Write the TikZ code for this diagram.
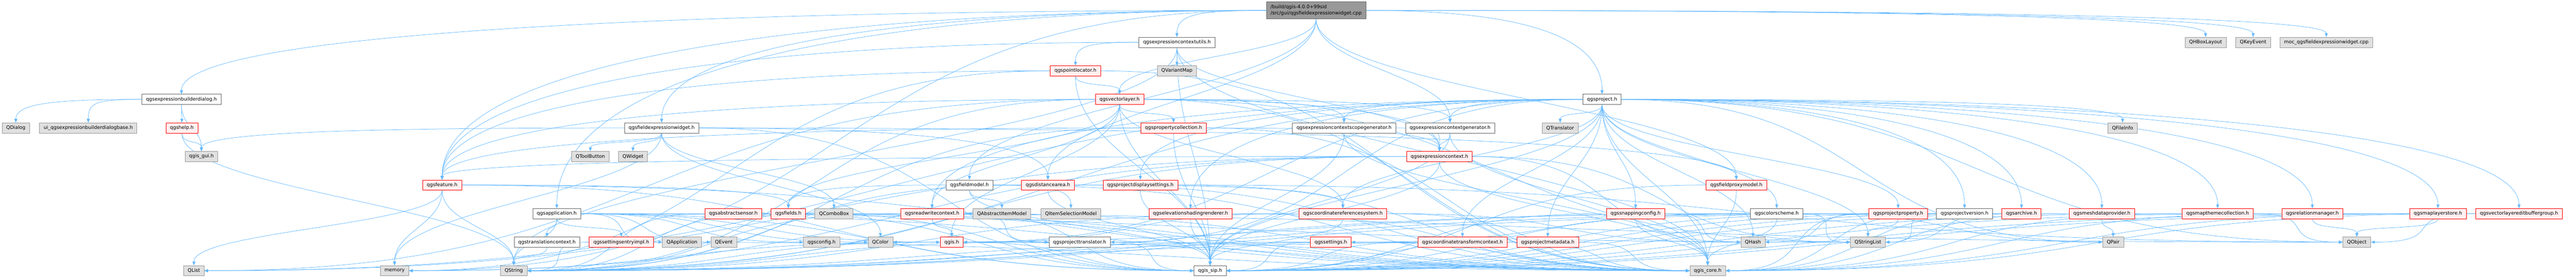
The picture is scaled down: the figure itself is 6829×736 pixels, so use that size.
\documentclass[tikz,border=0pt]{standalone}
\usepackage{fontspec}
\setmainfont{DejaVu Sans}
\usetikzlibrary{arrows.meta,backgrounds}
\definecolor{edgeblue}{HTML}{63B8FF}
\definecolor{partline}{HTML}{FF0000}
\definecolor{partfill}{HTML}{FFF0F0}
\definecolor{extfill}{HTML}{E0E0E0}
\definecolor{extline}{HTML}{999999}
\definecolor{docline}{HTML}{666666}
\definecolor{mainfill}{HTML}{999999}
\tikzset{
  file/.style={draw, line width=.75pt, inner xsep=8.25pt, inner ysep=1pt,
    minimum height=20.25pt, font=\fontsize{9.6}{11.5}\selectfont},
  docfile/.style={file, draw=docline, fill=white},
  extfile/.style={file, draw=extline, fill=extfill},
  partfile/.style={file, draw=partline, fill=partfill},
  mainfile/.style={file, draw=docline, fill=mainfill, align=left,
    minimum height=33.75pt, font=\fontsize{9.6}{12.75}\selectfont},
  dep/.style={->, draw=edgeblue, line width=.75pt},
}
% include edge: bottom to top, or side to side when far apart
\newcommand\dep[2]{%
  \pgfpointanchor{#1}{center}\pgfgetlastxy{\depax}{\depay}%
  \pgfpointanchor{#2}{center}\pgfgetlastxy{\depbx}{\depby}%
  \pgfmathsetmacro\depdx{(\depbx)-(\depax)}%
  \pgfmathsetmacro\depdy{(\depay)-(\depby)}%
  \pgfmathtruncatemacro\depfar{abs(\depdx)>3*\depdy}%
  \pgfmathtruncatemacro\deplow{\depby<-450}%
  \ifnum\depfar=1
    \ifdim\depdx pt>0pt \def\depsa{east}\def\depoa{0}\else\def\depsa{west}\def\depoa{180}\fi
    \pgfmathsetmacro\depod{0.5*abs(\depdx)}%
    \ifnum\deplow=1
      \ifdim\depdx pt>0pt \def\depta{west}\def\depia{180}\else\def\depta{east}\def\depia{0}\fi
      \pgfmathsetmacro\depid{0.5*abs(\depdx)}%
    \else
      \def\depta{north}\def\depia{90}%
      \pgfmathsetmacro\depid{0.7*\depdy}%
    \fi
  \else
    \def\depsa{south}\def\depoa{-90}\def\depta{north}\def\depia{90}%
    \pgfmathsetmacro\depod{0.4*\depdy}%
    \pgfmathsetmacro\depid{0.4*\depdy}%
  \fi
  \draw[dep] (#1.\depsa) .. controls +(\depoa:\depod pt) and +(\depia:\depid pt) .. (#2.\depta);%
}
\begin{document}
\begin{tikzpicture}[x=.75pt, y=-.75pt, >={Stealth[length=7.5pt,width=6pt,inset=0pt]}]
  \def\rowa{112} \def\rowb{187.6} \def\rowc{263.2} \def\rowd{338.8} \def\rowe{414.4}
  \def\rowf{490} \def\rowg{565.6} \def\rowh{641.2} \def\rowi{716.8}
  \useasboundingbox (0,0) rectangle (6829,736);
  \node[mainfile] (main) at (3489,27.5) {/build/qgis-4.0.0+99sid\\/src/gui/qgsfieldexpressionwidget.cpp};
  % rank 1
  \node[docfile] (ctxutils) at (3120,\rowa) {qgsexpressioncontextutils.h};
  \node[extfile] (hbox) at (5847,\rowa) {QHBoxLayout};
  \node[extfile] (keyev) at (5973,\rowa) {QKeyEvent};
  \node[extfile] (moc) at (6167,\rowa) {moc\_qgsfieldexpressionwidget.cpp};
  % rank 2
  \node[partfile] (ptloc) at (2851,\rowb) {qgspointlocator.h};
  \node[extfile] (varmap) at (3120,\rowb) {QVariantMap};
  % rank 3
  \node[docfile] (builder) at (481,\rowc) {qgsexpressionbuilderdialog.h};
  \node[partfile] (vlayer) at (2968,\rowc) {qgsvectorlayer.h};
  \node[docfile] (project) at (4247,\rowc) {qgsproject.h};
  % rank 4
  \node[extfile] (qdialog) at (42,\rowd) {QDialog};
  \node[extfile] (uidlg) at (234,\rowd) {ui\_qgsexpressionbuilderdialogbase.h};
  \node[partfile] (help) at (482,\rowd) {qgshelp.h};
  \node[docfile] (widget) at (1754,\rowd) {qgsfieldexpressionwidget.h};
  \node[partfile] (propcoll) at (3111,\rowd) {qgspropertycollection.h};
  \node[docfile] (scopegen) at (3563,\rowd) {qgsexpressioncontextscopegenerator.h};
  \node[docfile] (ctxgen) at (3844,\rowd) {qgsexpressioncontextgenerator.h};
  \node[extfile] (translator) at (4136,\rowd) {QTranslator};
  \node[extfile] (fileinfo) at (5627,\rowd) {QFileInfo};
  % rank 5
  \node[extfile] (guih) at (534,\rowe) {qgis\_gui.h};
  \node[extfile] (toolbtn) at (1565,\rowe) {QToolButton};
  \node[extfile] (qwidget) at (1678,\rowe) {QWidget};
  \node[partfile] (context) at (3816,\rowe) {qgsexpressioncontext.h};
  % rank 6
  \node[partfile] (feature) at (1172,\rowf) {qgsfeature.h};
  \node[docfile] (fieldmodel) at (2570,\rowf) {qgsfieldmodel.h};
  \node[partfile] (distarea) at (2778,\rowf) {qgsdistancearea.h};
  \node[partfile] (dispset) at (3023,\rowf) {qgsprojectdisplaysettings.h};
  \node[partfile] (proxymodel) at (4603,\rowf) {qgsfieldproxymodel.h};
  % rank 7
  \node[docfile] (app) at (1476,\rowg) {qgsapplication.h};
  \node[partfile] (sensor) at (1944,\rowg) {qgsabstractsensor.h};
  \node[partfile] (fields) at (2090,\rowg) {qgsfields.h};
  \node[extfile] (combo) at (2211,\rowg) {QComboBox};
  \node[partfile] (rwcontext) at (2471,\rowg) {qgsreadwritecontext.h};
  \node[extfile] (itemmodel) at (2656,\rowg) {QAbstractItemModel};
  \node[extfile] (selmodel) at (2839,\rowg) {QItemSelectionModel};
  \node[partfile] (elevation) at (3156,\rowg) {qgselevationshadingrenderer.h};
  \node[partfile] (crs) at (3560,\rowg) {qgscoordinatereferencesystem.h};
  \node[partfile] (snapping) at (4336,\rowg) {qgssnappingconfig.h};
  \node[docfile] (colorscheme) at (4710,\rowg) {qgscolorscheme.h};
  \node[partfile] (projprop) at (5032,\rowg) {qgsprojectproperty.h};
  \node[docfile] (projver) at (5208,\rowg) {qgsprojectversion.h};
  \node[partfile] (archive) at (5359,\rowg) {qgsarchive.h};
  \node[partfile] (meshdp) at (5572,\rowg) {qgsmeshdataprovider.h};
  \node[partfile] (themes) at (5879,\rowg) {qgsmapthemecollection.h};
  \node[partfile] (relmgr) at (6130,\rowg) {qgsrelationmanager.h};
  \node[partfile] (layerstore) at (6463,\rowg) {qgsmaplayerstore.h};
  \node[partfile] (editbuf) at (6678,\rowg) {qgsvectorlayereditbuffergroup.h};
  % rank 8
  \node[docfile] (transctx) at (1450,\rowh) {qgstranslationcontext.h};
  \node[partfile] (settentry) at (1647,\rowh) {qgssettingsentryimpl.h};
  \node[extfile] (qapp) at (1808,\rowh) {QApplication};
  \node[extfile] (qevent) at (1919,\rowh) {QEvent};
  \node[extfile] (config) at (2178,\rowh) {qgsconfig.h};
  \node[extfile] (qcolor) at (2334,\rowh) {QColor};
  \node[partfile] (qgish) at (2523,\rowh) {qgis.h};
  \node[docfile] (translatorh) at (2862,\rowh) {qgsprojecttranslator.h};
  \node[partfile] (settings) at (3528,\rowh) {qgssettings.h};
  \node[partfile] (ctcontext) at (3877,\rowh) {qgscoordinatetransformcontext.h};
  \node[partfile] (metadata) at (4103,\rowh) {qgsprojectmetadata.h};
  \node[extfile] (qhash) at (4647,\rowh) {QHash};
  \node[extfile] (strlist) at (4952,\rowh) {QStringList};
  \node[extfile] (qpair) at (5602,\rowh) {QPair};
  \node[extfile] (qobject) at (6248,\rowh) {QObject};
  % rank 9
  \node[extfile] (qlist) at (514,\rowi) {QList};
  \node[extfile] (memory) at (1046,\rowi) {memory};
  \node[extfile] (qstring) at (1362,\rowi) {QString};
  \node[docfile] (sip) at (3208,\rowi) {qgis\_sip.h};
  \node[extfile] (core) at (4527,\rowi) {qgis\_core.h};
  \begin{scope}[on background layer]
    \foreach \t in {widget,builder,ctxutils,vlayer,project,ctxgen,distarea,proxymodel,
      fieldmodel,app,memory,feature,hbox,keyev,moc} \dep{main}{\t};
    \foreach \t in {qdialog,uidlg,help,guih} \dep{builder}{\t};
    \foreach \t in {guih,qstring} \dep{help}{\t};
    \foreach \t in {toolbtn,qwidget,combo,qcolor,guih,sip,memory,distarea,proxymodel} \dep{widget}{\t};
    \foreach \t in {ptloc,varmap,context,feature,sip,core,qstring} \dep{ctxutils}{\t};
    \foreach \t in {vlayer,feature,sip,core,memory} \dep{ptloc}{\t};
    \foreach \t in {propcoll,scopegen,ctxgen,context,feature,fields,rwcontext,crs,qgish,
      sip,core,qstring,qlist,strlist} \dep{vlayer}{\t};
    \foreach \t in {translator,fileinfo,scopegen,ctxgen,dispset,elevation,crs,snapping,
      colorscheme,projprop,projver,archive,meshdp,themes,relmgr,layerstore,editbuf,
      translatorh,ctcontext,metadata,qhash,strlist,qpair,qobject,rwcontext,qgish,
      sip,core,qstring,qlist} \dep{project}{\t};
    \foreach \t in {context,feature,core,sip,qstring} \dep{propcoll}{\t};
    \foreach \t in {context,core,sip} \dep{scopegen}{\t};
    \foreach \t in {context,core,sip} \dep{ctxgen}{\t};
    \foreach \t in {feature,qhash,strlist,qlist,qstring,core,sip,memory} \dep{context}{\t};
    \foreach \t in {fields,qlist,memory,qstring,core,sip} \dep{feature}{\t};
    \foreach \t in {itemmodel,selmodel,fields,core,sip} \dep{fieldmodel}{\t};
    \foreach \t in {crs,core,sip,qstring} \dep{distarea}{\t};
    \foreach \t in {qobject,core,sip} \dep{dispset}{\t};
    \foreach \t in {core,sip} \dep{proxymodel}{\t};
    \foreach \t in {transctx,settentry,qapp,qevent,config,qcolor,qgish,strlist,
      core,sip,qstring} \dep{app}{\t};
    \foreach \t in {qobject,core,sip,qstring} \dep{sensor}{\t};
    \foreach \t in {core,sip,qstring} \dep{fields}{\t};
    \foreach \t in {qgish,translatorh,core,sip,qstring} \dep{rwcontext}{\t};
    \foreach \t in {core,sip} \dep{elevation}{\t};
    \foreach \t in {qgish,qhash,core,sip,qstring} \dep{crs}{\t};
    \foreach \t in {qhash,core,sip} \dep{snapping}{\t};
    \foreach \t in {settings,qcolor,qpair,strlist,core,sip,qstring} \dep{colorscheme}{\t};
    \foreach \t in {strlist,qhash,core,sip,qstring} \dep{projprop}{\t};
    \foreach \t in {strlist,core,sip,qstring} \dep{projver}{\t};
    \foreach \t in {strlist,core,sip} \dep{archive}{\t};
    \foreach \t in {qpair,core,sip} \dep{meshdp}{\t};
    \foreach \s in {themes,relmgr,layerstore,editbuf}
      \foreach \t in {qobject,core,sip} \dep{\s}{\t};
    \dep{transctx}{qstring};
    \foreach \t in {core,qstring} \dep{settentry}{\t};
    \foreach \t in {core,sip,qstring,memory} \dep{qgish}{\t};
    \foreach \s in {translatorh,settings,ctcontext,metadata}
      \foreach \t in {core,sip,qstring} \dep{\s}{\t};
  \end{scope}
\end{tikzpicture}
\end{document}
